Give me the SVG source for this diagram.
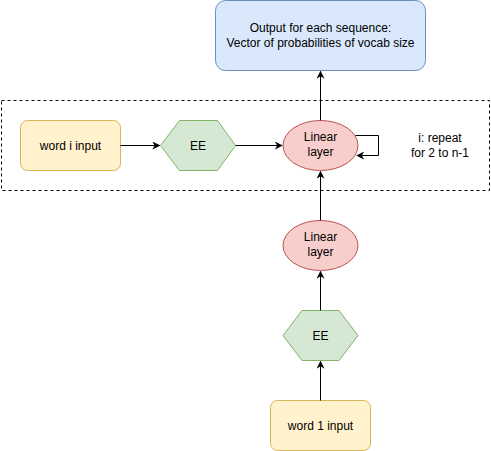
<svg xmlns="http://www.w3.org/2000/svg" width="491" height="451" viewBox="0 0 491 451">
<style>
text{font-family:"Liberation Sans",Arial,sans-serif;font-size:12px;fill:#000;text-anchor:middle}
.y{fill:#fff2cc;stroke:#d6b656}
.g{fill:#d5e8d4;stroke:#82b366}
.r{fill:#f8cecc;stroke:#b85450}
.b{fill:#dae8fc;stroke:#6c8ebf}
.e{fill:none;stroke:#000;stroke-width:1}
</style>
<defs>
<marker id="a" viewBox="0 0 10 10" refX="9" refY="5" markerWidth="8" markerHeight="8" markerUnits="userSpaceOnUse" orient="auto">
<path d="M0,0 L10,5 L0,10 L3,5 Z" fill="#000"/>
</marker>
</defs>
<rect x="1.5" y="100.5" width="488" height="90" fill="none" stroke="#000" stroke-dasharray="3,3"/>
<g id="output"><rect class="b" x="215.5" y="0.5" width="210" height="70" rx="10"/>
<text x="320.5" y="32">Output for each sequence:</text>
<text x="320.5" y="47">Vector of probabilities of vocab size</text></g>
<g id="wordi"><rect class="y" x="20.5" y="120.5" width="100" height="50" rx="7"/><text x="70.5" y="150">word i input</text></g>
<g id="ee1"><polygon class="g" points="160.5,145.5 179.5,120.5 217.5,120.5 235.5,145.5 217.5,170.5 179.5,170.5"/><text x="198" y="150">EE</text></g>
<g id="lin1"><ellipse class="r" cx="320.5" cy="145.5" rx="37.5" ry="25"/><text x="320.5" y="141">Linear</text><text x="320.5" y="156">layer</text></g>
<g id="note"><text x="440" y="142">i: repeat</text><text x="440" y="157">for 2 to n-1</text></g>
<g id="lin2"><ellipse class="r" cx="320.5" cy="245.5" rx="37.5" ry="25"/><text x="320.5" y="241">Linear</text><text x="320.5" y="256">layer</text></g>
<g id="ee2"><polygon class="g" points="283,335.5 302,310.5 339,310.5 358,335.5 339,360.5 302,360.5"/><text x="320.5" y="340">EE</text></g>
<g id="word1"><rect class="y" x="270.5" y="400.5" width="100" height="50" rx="7"/><text x="320.5" y="430">word 1 input</text></g>
<g id="connectors">
<path class="e" d="M120.5,145.5 H159.5" marker-end="url(#a)"/>
<path class="e" d="M235.5,145.5 H282" marker-end="url(#a)"/>
<path class="e" d="M320.5,120.5 V71.5" marker-end="url(#a)"/>
<path class="e" d="M320.5,220.5 V171.5" marker-end="url(#a)"/>
<path class="e" d="M320.5,310.5 V271.5" marker-end="url(#a)"/>
<path class="e" d="M320.5,400.5 V361.5" marker-end="url(#a)"/>
<path class="e" d="M355.5,135.5 H378.5 V155.5 H357" marker-end="url(#a)"/>
</g>
</svg>
